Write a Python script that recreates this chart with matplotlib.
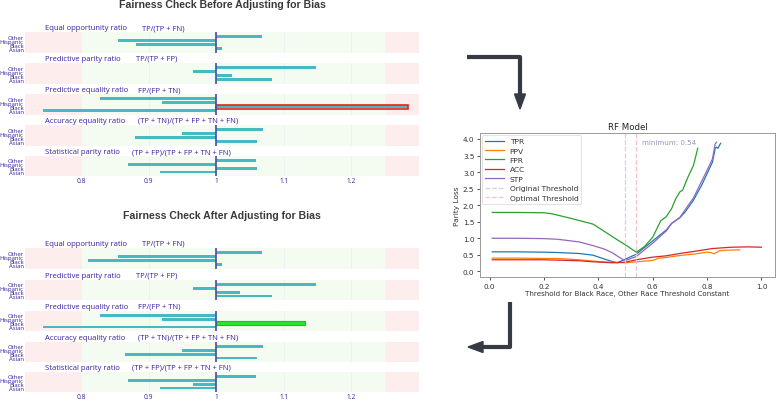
import matplotlib
matplotlib.use("Agg")
import matplotlib.pyplot as plt
from matplotlib.lines import Line2D
from matplotlib.patches import Polygon

W, H = 777, 402
fig = plt.figure(figsize=(W / 100, H / 100), dpi=100)

# ---------------- data ----------------
groups = ["Asian", "Black", "Hispanic", "Other"]
metrics = ["Equal opportunity ratio", "Predictive parity ratio", "Predictive equality ratio",
           "Accuracy equality ratio", "Statistical parity ratio"]
formulas = ["TP/(TP + FN)", "TP/(TP + FP)", "FP/(FP + TN)",
            "(TP + TN)/(TP + FP + TN + FN)", "(TP + FP)/(TP + FP + TN + FN)"]
# values ordered as groups (Asian, Black, Hispanic, Other)
before_eo = [1.008, 0.881, 0.855, 1.068]
before_pp = [1.082, 1.023, 0.965, 1.147]
before_pe = [0.743, 1.283, 0.919, 0.828]
before_ae = [1.060, 0.880, 0.950, 1.069]
before_sp = [0.917, 1.060, 0.870, 1.059]
after_eo = [1.008, 0.810, 0.855, 1.068]
after_pp = [1.082, 1.035, 0.965, 1.147]
after_pe = [0.743, 1.131, 0.919, 0.828]
after_ae = [1.060, 0.865, 0.950, 1.069]
after_sp = [0.917, 0.965, 0.870, 1.059]
x_ticks = [0.8, 0.9, 1.0, 1.1, 1.2]
x_tick_labels = ["0.8", "0.9", "1", "1.1", "1.2"]

tpr_x = [0.01, 0.1, 0.2, 0.25, 0.33, 0.38, 0.42, 0.45, 0.47, 0.5, 0.54, 0.6, 0.65, 0.67, 0.7,
         0.72, 0.75, 0.78, 0.8, 0.82, 0.83, 0.835, 0.84, 0.85]
tpr_y = [0.59, 0.59, 0.58, 0.57, 0.54, 0.49, 0.38, 0.30, 0.26, 0.37, 0.52, 0.92, 1.25, 1.45, 1.62,
         1.8, 2.15, 2.6, 2.95, 3.3, 3.72, 3.75, 3.72, 3.87]
ppv_x = [0.01, 0.1, 0.2, 0.25, 0.33, 0.38, 0.45, 0.5, 0.54, 0.6, 0.623, 0.65, 0.7, 0.75, 0.8,
         0.815, 0.825, 0.835, 0.845, 0.87, 0.92]
ppv_y = [0.40, 0.40, 0.39, 0.39, 0.35, 0.31, 0.27, 0.26, 0.29, 0.33, 0.40, 0.42, 0.48, 0.52, 0.58,
         0.57, 0.53, 0.57, 0.62, 0.64, 0.65]
fpr_x = [0.01, 0.1, 0.2, 0.23, 0.3, 0.38, 0.42, 0.465, 0.5, 0.54, 0.57, 0.6, 0.63, 0.65, 0.67,
         0.684, 0.7, 0.71, 0.73, 0.75, 0.766]
fpr_y = [1.78, 1.78, 1.77, 1.74, 1.6, 1.43, 1.22, 0.98, 0.8, 0.58, 0.75, 1.03, 1.53, 1.65, 1.9,
         2.18, 2.4, 2.45, 2.85, 3.2, 3.72]
acc_x = [0.01, 0.1, 0.2, 0.25, 0.33, 0.38, 0.45, 0.5, 0.54, 0.6, 0.65, 0.7, 0.75, 0.82, 0.89,
         0.95, 1.0]
acc_y = [0.35, 0.35, 0.35, 0.34, 0.32, 0.29, 0.26, 0.28, 0.35, 0.43, 0.47, 0.54, 0.6, 0.69, 0.73,
         0.74, 0.73]
stp_x = [0.01, 0.1, 0.2, 0.25, 0.33, 0.38, 0.42, 0.45, 0.49, 0.5, 0.54, 0.6, 0.65, 0.67, 0.7,
         0.75, 0.8, 0.82, 0.83, 0.835]
stp_y = [1.0, 1.0, 0.99, 0.97, 0.89, 0.78, 0.68, 0.57, 0.36, 0.33, 0.45, 0.85, 1.22, 1.45, 1.63,
         2.22, 3.05, 3.4, 3.85, 3.9]
original_threshold = 0.5
optimal_threshold = 0.54

TXT = "#371ea3"
BAR = "#46bac2"
PINK = "#fdeded"
GREEN = "#f4fbf1"
XMIN, XMAX = 0.717, 1.30


def fax(x0, y0, x1, y1):
    return fig.add_axes([x0 / W, 1 - y1 / H, (x1 - x0) / W, (y1 - y0) / H])


def panel(title, title_y, bands, values, highlight):
    fig.text(222 / W, 1 - title_y / H, title, ha="center", va="center",
             fontsize=7.6, fontweight="bold", color="#3a3a3a", family="Liberation Sans")
    formula_x = [142, 136, 138, 138, 132]
    for i, (y0, y1) in enumerate(bands):
        ax = fax(25, y0, 419, y1)
        ax.set_xlim(XMIN, XMAX)
        ax.set_ylim(-1.0, 4.15)
        ax.axvspan(XMIN, 0.8, color=PINK, lw=0, zorder=0)
        ax.axvspan(0.8, 1.25, color=GREEN, lw=0, zorder=0)
        ax.axvspan(1.25, XMAX, color=PINK, lw=0, zorder=0)
        for t in x_ticks:
            if t != 1.0:
                ax.axvline(t, color="#e9edf2", lw=0.5, zorder=1)
        ypos = list(range(len(groups)))
        widths = [v - 1 for v in values[i]]
        ax.barh(ypos, widths, left=1, height=0.7, color=BAR, lw=0, zorder=2)
        if highlight is not None and highlight[0] == i:
            g = highlight[1]
            if highlight[2] == "red":
                ax.barh([g], [values[i][g] - 1], left=1, height=1.1, facecolor="none",
                        edgecolor="#e8231c", lw=1.2, zorder=3)
            else:
                ax.barh([g], [values[i][g] - 1], left=1, height=1.1, facecolor="#25e825",
                        edgecolor="#19c419", lw=0.8, zorder=3)
        ax.axvline(1.0, color="#4a4aa0", lw=1.2, zorder=4)
        for s in ax.spines.values():
            s.set_visible(False)
        ax.set_yticks(ypos)
        ax.set_yticklabels(groups, fontsize=4.3, color=TXT, family="Open Sans")
        ax.tick_params(axis="y", length=0, pad=1)
        ax.set_xticks(x_ticks)
        if i == len(bands) - 1:
            ax.set_xticklabels(x_tick_labels, fontsize=4.8, color=TXT, family="Open Sans")
            ax.tick_params(axis="x", length=0, pad=0.6)
        else:
            ax.set_xticklabels([])
            ax.tick_params(axis="x", length=0)
        ty = y0 - 4.5
        fig.text(45 / W, 1 - ty / H, metrics[i], ha="left", va="center", fontsize=5.5,
                 color=TXT, family="Open Sans")
        fig.text(formula_x[i] / W, 1 - ty / H, formulas[i], ha="left", va="center",
                 fontsize=5.5, color=TXT, family="Open Sans")


before = [before_eo, before_pp, before_pe, before_ae, before_sp]
after = [after_eo, after_pp, after_pe, after_ae, after_sp]
bands_top = [(33, 54), (64, 85), (95, 116), (126, 147), (157, 177)]
bands_bot = [(249, 270), (281, 301), (312, 332), (343, 363), (373, 393)]
panel("Fairness Check Before Adjusting for Bias", 5.5, bands_top, before, (2, 1, "red"))
panel("Fairness Check After Adjusting for Bias", 216, bands_bot, after, (2, 1, "green"))

# ---------------- right chart ----------------
ax = fax(480, 134, 775, 278)
ax.plot(tpr_x, tpr_y, color="#1f77b4", lw=0.9, label="TPR")
ax.plot(ppv_x, ppv_y, color="#ff7f0e", lw=0.9, label="PPV")
ax.plot(fpr_x, fpr_y, color="#2ca02c", lw=0.9, label="FPR")
ax.plot(acc_x, acc_y, color="#d62728", lw=0.9, label="ACC")
ax.plot(stp_x, stp_y, color="#9467bd", lw=0.9, label="STP")
ax.axvline(original_threshold, color="#d9cfd6", ls="--", lw=0.9, label="Original Threshold")
ax.axvline(optimal_threshold, color="#f2c2ca", ls="--", lw=0.9, label="Optimal Threshold")
ax.text(0.56, 3.85, f"minimum: {optimal_threshold}", fontsize=5.1, color="#8d9bb8")
ax.set_xlim(-0.035, 1.05)
ax.set_ylim(-0.17, 4.18)
ax.set_xticks([0.0, 0.2, 0.4, 0.6, 0.8, 1.0])
ax.set_yticks([0.0, 0.5, 1.0, 1.5, 2.0, 2.5, 3.0, 3.5, 4.0])
ax.tick_params(labelsize=5.2, colors="#333333", length=2.5, width=0.6, pad=1.5)
for s in ax.spines.values():
    s.set_color("#9a9a9a")
    s.set_linewidth(0.7)
ax.set_title("RF Model", fontsize=6.2, color="#222222", pad=3)
ax.set_xlabel("Threshold for Black Race, Other Race Threshold Constant", fontsize=5.1,
              color="#333333", labelpad=1)
ax.set_ylabel("Parity Loss", fontsize=5.3, color="#333333", labelpad=2)
leg = ax.legend(loc="upper left", fontsize=5.4, frameon=True, handlelength=2.5,
                borderpad=0.4, labelspacing=0.42, borderaxespad=0.25)
leg.get_frame().set_linewidth(0.5)
leg.get_frame().set_edgecolor("#cccccc")
for t in leg.get_texts():
    t.set_color("#333333")

# ---------------- arrows ----------------
AC = "#353a45"


def fxy(x, y):
    return (x / W, 1 - y / H)


def seg(pts):
    xs = [p[0] / W for p in pts]
    ys = [1 - p[1] / H for p in pts]
    fig.add_artist(Line2D(xs, ys, color=AC, lw=3.0, solid_joinstyle="round",
                          solid_capstyle="butt", transform=fig.transFigure))


def head(tip, direction):
    x, y = tip
    if direction == "down":
        pts = [(x, y), (x - 5.5, y - 15), (x + 5.5, y - 15)]
    else:
        pts = [(x, y), (x + 15, y - 5.5), (x + 15, y + 5.5)]
    fig.add_artist(Polygon([fxy(*p) for p in pts], closed=True, color=AC,
                           transform=fig.transFigure))


seg([(467, 58), (520, 58), (520, 97)])
head((520, 110), "down")
seg([(510, 303), (510, 348), (481, 348)])
head((468, 348), "left")

fig.savefig("out.png", dpi=100)
